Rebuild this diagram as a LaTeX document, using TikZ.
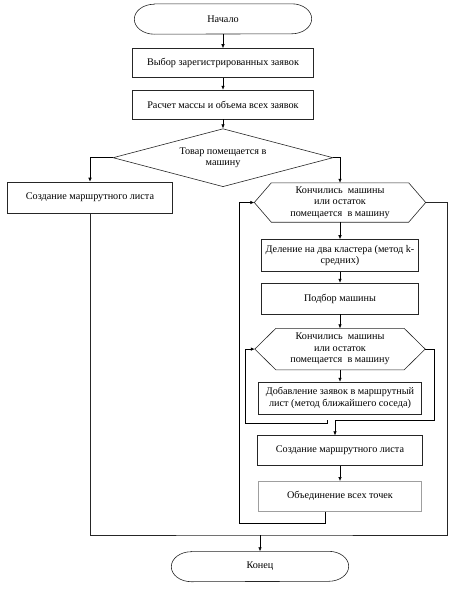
\documentclass[tikz,border=0pt]{standalone}
\usepackage{fontspec}
\setmainfont{Liberation Serif}
\usetikzlibrary{arrows.meta,positioning,shapes.geometric}

\begin{document}
\begin{tikzpicture}[
  x=1pt, y=1pt,
  font=\fontsize{10.2}{11.5}\selectfont,
  box/.style={draw=black!85, align=center, minimum height=31pt, minimum width=157pt, inner sep=1.5pt, line width=0.6pt},
  term/.style={minimum width=177pt, minimum height=30pt, inner sep=0pt},
  cond/.style={draw=black!85, diamond, aspect=3.8, minimum width=220pt, minimum height=58pt, align=center, inner sep=0pt, line width=0.6pt},
  hexa/.style={align=center, minimum width=171pt, minimum height=39pt, inner sep=0pt},
  line/.style={-{Latex[length=4pt,width=3.5pt]}, line width=0.6pt},
  wire/.style={line width=0.6pt, draw=black!85}
]
\useasboundingbox (0,0) rectangle (461,-589);

\node[term] (start) at (223,-19) {Начало};
\node[box, below=14pt of start, minimum width=181pt, minimum height=29pt] (select) {Выбор зарегистрированных заявок};
\node[box, below=12pt of select, minimum width=181pt, minimum height=29pt] (calc) {Расчет массы и объема всех заявок};
\node[cond, below=9pt of calc] (fits) {Товар помещается в\\машину};
\node[box, minimum width=165pt] (route) at (90,-197.5) {Создание маршрутного листа};

\node[hexa] (loopA) at (340,-202.5) {Кончились\ \ машины\\или остаток\\помещается\ \ в машину};
\node[box, below=17pt of loopA, minimum height=32pt] (split) {Деление на два кластера (метод k-\\средних)};
\node[box, below=11pt of split] (pick) {Подбор машины};
\node[hexa, below=14pt of pick, minimum width=170pt, minimum height=41pt] (loopB) {Кончились\ \ машины\\или остаток\\помещается\ \ в машину};
\node[box, below=12pt of loopB, minimum width=163pt, minimum height=32pt] (add) {Добавление заявок в маршрутный\\лист (метод ближайшего соседа)};
\node[box, below=21pt of add, minimum width=165pt, minimum height=30pt] (routeB) {Создание маршрутного листа};
\node[box, below=15pt of routeB, minimum width=163pt, minimum height=30pt, draw=gray!75] (merge) {Объединение всех точек};
\node[term] (finish) at (260,-566.5) {Конец};

% terminal and loop outlines
\foreach \t in {start,finish}
  \draw[wire] ([xshift=20pt]\t.north west) -- ([xshift=-20pt]\t.north east)
    arc[start angle=90, end angle=-90, x radius=20pt, y radius=15pt]
    -- ([xshift=20pt]\t.south west)
    arc[start angle=270, end angle=90, x radius=20pt, y radius=15pt] -- cycle;
\foreach \h/\c in {loopA/17pt,loopB/21pt}
  \draw[wire] (\h.west) -- ([xshift=\c]\h.north west) -- ([xshift=-\c]\h.north east) -- (\h.east)
    -- ([xshift=-\c]\h.south east) -- ([xshift=\c]\h.south west) -- cycle;

\draw[line] (start) -- (select);
\draw[line] (select) -- (calc);
\draw[line] (calc) -- (fits);
\draw[line] (fits.west) -| (route.north);
\draw[line] (fits.east) -| (loopA.north);
\draw[line] (loopA) -- (split);
\draw[line] (split) -- (pick);
\draw[line] (pick) -- (loopB);
\draw[line] (loopB) -- (add);

\coordinate (joinB) at (335,-420);
\coordinate (backB) at (327,-420);
\draw[line] (loopB.east) -- ++(9,0) |- (joinB) -- (joinB |- routeB.north);
\draw[line] (backB) -- ++(0,-3) -| ([xshift=-10pt]loopB.west) -- (loopB.west);

\draw[line] (routeB) -- (merge);
\draw[line] ([xshift=-15pt]merge.south) -- ++(0,-12) -| ([xshift=-15pt]loopA.west) -- (loopA.west);

\coordinate (joinA) at (260,-535);
\draw[wire] (loopA.east) -- ++(22,0) |- (joinA) -- (route.south |- joinA) -- (route.south);
\draw[line] (joinA) -- (finish);
\end{tikzpicture}
\end{document}
